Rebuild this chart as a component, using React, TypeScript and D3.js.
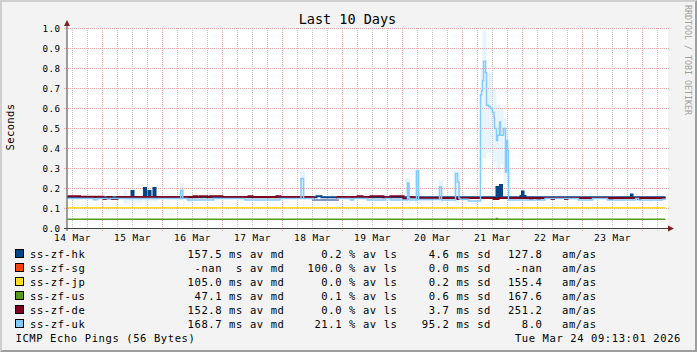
import React from "react";
import * as d3 from "d3";

const W = 697;
const H = 352;
const BASE = Date.UTC(2026, 2, 14, 0, 0, 0);
const hr = (h: number) => new Date(BASE + h * 3600e3);

// hosts
const hostNames = ["ss-zf-hk", "ss-zf-sg", "ss-zf-jp", "ss-zf-us", "ss-zf-de", "ss-zf-uk"];
const hostColors = ["#004586", "#ff420e", "#ffde20", "#579d1c", "#7e0021", "#83caff"];
const medians = ["157.5", "-nan", "105.0", "47.1", "152.8", "168.7"];
const medUnits = ["ms", " s", "ms", "ms", "ms", "ms"];
const losses = ["0.2", "100.0", "0.0", "0.1", "0.0", "21.1"];
const stdDevs = ["4.6", "0.0", "0.2", "0.6", "3.7", "95.2"];
const amas = ["127.8", "-nan", "155.4", "167.6", "251.2", "8.0"];

// median RTT (seconds), step series: [hours since 14 Mar 00:00, value]
const hkSteps: [number, number][] = [
  [10, 0.156], [35.6, 0.187], [36.4, 0.156], [40.6, 0.203], [41.4, 0.156],
  [42.4, 0.188], [43.2, 0.156], [44.4, 0.203], [45.2, 0.156],
  [109.6, 0.161], [111.6, 0.156], [181.6, 0.208], [182.4, 0.156],
  [183.0, 0.217], [183.8, 0.156], [191.2, 0.162], [191.8, 0.185], [192.4, 0.162],
  [193.2, 0.156], [235.4, 0.17], [236.0, 0.156], [249.2, 0.156],
];
const sgSteps: [number, number][] = []; // 100% loss, no data
const jpSteps: [number, number][] = [[10, 0.104], [249.2, 0.104]];
const usSteps: [number, number][] = [[10, 0.046], [181.6, 0.05], [182.0, 0.046], [249.2, 0.046]];
const deSteps: [number, number][] = [
  [10, 0.161], [15, 0.159], [24.4, 0.147], [26, 0.158], [27.6, 0.147], [30, 0.158],
  [60.4, 0.161], [62, 0.158], [63, 0.161], [66, 0.158], [67, 0.161], [72, 0.158],
  [82.4, 0.161], [84, 0.158], [93.6, 0.161], [95.2, 0.158], [108.4, 0.143], [118, 0.158],
  [126, 0.161], [128, 0.158], [131.2, 0.161], [136.4, 0.156], [139.2, 0.161], [144.4, 0.147],
  [146, 0.156], [150, 0.153], [166, 0.147], [167, 0.153], [180.4, 0.147], [182.4, 0.153],
  [195, 0.147], [196, 0.153], [198, 0.147], [199, 0.153], [203.6, 0.147], [204.6, 0.153],
  [209, 0.147], [210, 0.153], [227, 0.147], [228, 0.153], [238.2, 0.147], [239.2, 0.153],
  [249.2, 0.153],
];
const ukSteps: [number, number][] = [
  [10, 0.15], [20.4, 0.144], [22, 0.15], [26, 0.146], [27, 0.15],
  [55.3, 0.19], [56.1, 0.15], [58, 0.142], [68.4, 0.15], [81, 0.142], [95, 0.15],
  [103.4, 0.25], [104.4, 0.15], [108.4, 0.142], [118, 0.15], [123.2, 0.142], [124.4, 0.15],
  [130, 0.142], [137.2, 0.15], [139.2, 0.142], [146, 0.228], [146.6, 0.15], [147, 0.142],
  [149.6, 0.288], [150.4, 0.145], [158.8, 0.208], [159.6, 0.142], [165.2, 0.275],
  [166, 0.233], [166.6, 0.15], [167, 0.146], [170.4, 0.137],
  [175.2, 0.667], [175.6, 0.69], [176, 0.74], [176.4, 0.836], [177.2, 0.78], [177.6, 0.616],
  [178.4, 0.61], [179.2, 0.6], [180, 0.58], [180.6, 0.555], [180.8, 0.5], [181.6, 0.44],
  [182, 0.466], [182.8, 0.533], [183.2, 0.466], [184.4, 0.5], [185.2, 0.283], [185.6, 0.44],
  [186, 0.39], [186.4, 0.142], [201, 0.15], [214.4, 0.142], [220, 0.15], [226, 0.142],
  [237.2, 0.15], [238.4, 0.142], [248, 0.146], [249.2, 0.146],
];
// uk smoke: [startHour, endHour, low, high]
const ukSmoke: [number, number, number, number][] = [
  [32.4, 34, 0.12, 0.19], [34, 40, 0.13, 0.165], [40, 46, 0.135, 0.16],
  [54.8, 56.6, 0.14, 0.226], [58, 60, 0.13, 0.16], [103, 105, 0.145, 0.29],
  [115.6, 116.4, 0.14, 0.175], [145.2, 147, 0.125, 0.25], [149, 151, 0.125, 0.3],
  [151, 156, 0.135, 0.16], [158.4, 160.4, 0.13, 0.24], [164.4, 167.2, 0.13, 0.29],
  [167.2, 170, 0.135, 0.165], [174.8, 175.2, 0.14, 0.5], [175.2, 176, 0.3, 0.8],
  [176, 177.6, 0.35, 0.99], [177.6, 180, 0.38, 0.78], [180, 181.6, 0.33, 0.7],
  [181.6, 183.2, 0.28, 0.62], [183.2, 184.4, 0.32, 0.6], [184.4, 185.6, 0.22, 0.55],
  [185.6, 186.4, 0.28, 0.5], [186.4, 187.2, 0.14, 0.3], [212.4, 213, 0.14, 0.165],
  [238.8, 239.4, 0.13, 0.16], [243, 243.6, 0.13, 0.16],
];
const seriesSteps = [hkSteps, sgSteps, jpSteps, usSteps, deSteps, ukSteps];
const seriesWidths = [2, 2, 1.5, 1.5, 2, 1.5];

const yTicks = [0, 0.1, 0.2, 0.3, 0.4, 0.5, 0.6, 0.7, 0.8, 0.9, 1.0];

const FONT = "'DejaVu Sans Mono', monospace";

export default function App() {
  const x = d3.scaleUtc().domain([hr(10), hr(250)]).range([67.5, 667.5]);
  const y = d3.scaleLinear().domain([0, 1]).range([228.5, 28.5]);
  const [t0, t1] = x.domain();
  const minor = d3.utcHour.every(6)!.range(t0, t1).filter((d) => d.getUTCHours() !== 0);
  const major = d3.utcDay.range(t0, t1);
  const labelDays = d3.utcDay
    .range(hr(0), t1)
    .map((d) => new Date(+d + 12 * 3600e3))
    .filter((d) => d >= t0 && d <= t1);
  const fmt = d3.utcFormat("%d %b");
  const line = d3
    .line<[number, number]>()
    .x((d) => x(hr(d[0])))
    .y((d) => y(d[1]))
    .curve(d3.curveStepAfter);

  const legendY0 = 258;
  const rowH = 14;

  return (
    <svg
      width={W}
      height={H}
      style={{ position: "fixed", left: 0, top: 0, display: "block" }}
      xmlns="http://www.w3.org/2000/svg"
    >
      <rect x={0} y={0} width={W} height={H} fill="#f3f3f3" />
      {/* 3D border */}
      <polygon points={`0,0 ${W},0 ${W - 2},2 2,2 2,${H - 2} 0,${H}`} fill="#cfcfcf" />
      <polygon points={`${W},0 ${W},${H} 0,${H} 2,${H - 2} ${W - 2},${H - 2} ${W - 2},2`} fill="#9e9e9e" />
      {/* canvas */}
      <rect x={67} y={28} width={601} height={201} fill="#ffffff" />
      {/* uk smoke */}
      {ukSmoke.map((s, i) => (
        <rect
          key={"sm" + i}
          x={x(hr(s[0]))}
          y={y(s[3])}
          width={x(hr(s[1])) - x(hr(s[0]))}
          height={y(s[2]) - y(s[3])}
          fill="#e6f4ff"
        />
      ))}
      {/* minor grid */}
      {minor.map((d, i) => (
        <line key={"mi" + i} x1={x(d)} x2={x(d)} y1={28} y2={231} stroke="#c8c8c8" strokeDasharray="1,1" />
      ))}
      {/* major grid */}
      {major.map((d, i) => (
        <line key={"ma" + i} x1={x(d)} x2={x(d)} y1={28} y2={231} stroke="#f2a8a8" strokeDasharray="1,1" />
      ))}
      {yTicks.slice(1).map((v, i) => (
        <line key={"hy" + i} x1={64} x2={669} y1={y(v)} y2={y(v)} stroke="#f2a8a8" strokeDasharray="1,1" />
      ))}
      {/* data lines */}
      {seriesSteps.map((s, i) =>
        s.length ? (
          <path
            key={"ln" + i}
            d={line(s) || ""}
            fill="none"
            stroke={hostColors[i]}
            strokeWidth={seriesWidths[i]}
          />
        ) : null
      )}
      {/* axes */}
      <line x1={64} x2={669} y1={228.5} y2={228.5} stroke="#404040" />
      <polygon points="668,225.5 674,228.5 668,231.5" fill="#801f1f" />
      <line x1={67} x2={67} y1={231} y2={25} stroke="#404040" />
      <polygon points="64,26 67,20 70,26" fill="#801f1f" />
      {/* y labels */}
      {yTicks.map((v, i) => (
        <text
          key={"yl" + i}
          x={60.5}
          y={y(v) + 3.5}
          textAnchor="end"
          fontFamily={FONT}
          fontSize={9.2}
          letterSpacing={0.5}
          fill="#000"
        >
          {v.toFixed(1)}
        </text>
      ))}
      {/* x labels */}
      {labelDays.map((d, i) => (
        <text
          key={"xl" + i}
          x={x(d)}
          y={241}
          textAnchor="middle"
          fontFamily={FONT}
          fontSize={9.5}
          letterSpacing={0.45}
          fill="#000"
        >
          {fmt(d)}
        </text>
      ))}
      {/* title */}
      <text x={347.5} y={24} textAnchor="middle" fontFamily={FONT} fontSize={13.5} fill="#000">
        Last 10 Days
      </text>
      <text
        transform="translate(14,127) rotate(-90)"
        textAnchor="middle"
        fontFamily={FONT}
        fontSize={10.5}
        letterSpacing={0.4}
        fill="#000"
      >
        Seconds
      </text>
      <text
        transform="translate(685,5) rotate(90)"
        fontFamily={FONT}
        fontSize={8.3}
        fill="#a0a0a0"
      >
        RRDTOOL / TOBI OETIKER
      </text>
      {/* legend */}
      {hostNames.map((n, i) => {
        const by = legendY0 + rowH * i;
        const tp = { fontFamily: FONT, fontSize: 10.5, letterSpacing: 0.6, fill: "#000", style: { whiteSpace: "pre" as const } };
        const med = medians[i].padStart(5, " ");
        return (
          <g key={"lg" + i}>
            <rect x={15.5} y={by - 8.5} width={8} height={8} fill={hostColors[i]} stroke="#000" />
            <text x={30} y={by} {...tp}>{n}</text>
            <text x={284.5} y={by} textAnchor="end" {...tp}>{`${med} ${medUnits[i]} av md`}</text>
            <text x={397.5} y={by} textAnchor="end" {...tp}>{`${losses[i]} % av ls`}</text>
            <text x={491} y={by} textAnchor="end" {...tp}>{`${stdDevs[i]} ms sd`}</text>
            <text x={542.5} y={by} textAnchor="end" {...tp}>{amas[i]}</text>
            <text x={562} y={by} {...tp}>am/as</text>
          </g>
        );
      })}
      <text x={15.5} y={342} fontFamily={FONT} fontSize={10.5} letterSpacing={0.6} fill="#000">
        ICMP Echo Pings (56 Bytes)
      </text>
      <text x={681} y={342} textAnchor="end" fontFamily={FONT} fontSize={10.5} letterSpacing={0.6} fill="#000">
        Tue Mar 24 09:13:01 2026
      </text>
    </svg>
  );
}
